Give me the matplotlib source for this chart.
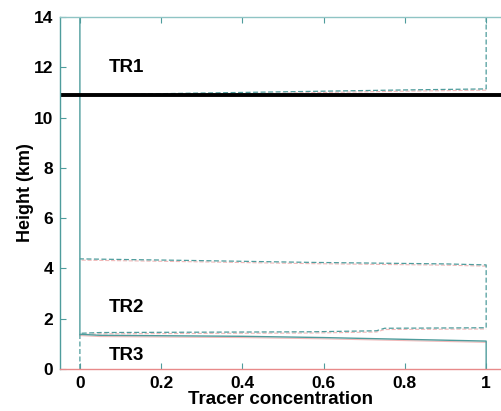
import matplotlib
matplotlib.use('Agg')
import matplotlib.pyplot as plt

plt.rcParams['font.family'] = ['Liberation Sans', 'DejaVu Sans']
plt.rcParams['font.weight'] = 'bold'

# profiles of tracer concentration vs height (km)
tr1_x = [1, 1, 0.8, 0.6, 0.4, 0.27, 0.1, 0]
tr1_y = [14, 11.14, 11.1, 11.05, 11.0, 10.97, 10.92, 10.9]
tr2_x = [0, 0, 0.05, 0.57, 0.73, 0.75, 1, 1, 0.9, 0.57, 0.26, 0, 0]
tr2_y = [0, 1.42, 1.45, 1.48, 1.52, 1.62, 1.64, 4.14, 4.18, 4.24, 4.32, 4.38, 14]
tr3_x = [0, 0, 0.05, 0.4, 0.6, 0.8, 1, 1]
tr3_y = [14, 1.38, 1.34, 1.30, 1.25, 1.18, 1.11, 0]
tropopause = 10.9

labels = ['TR1', 'TR2', 'TR3']
label_y = [12.0, 2.45, 0.55]

teal = '#4e9c9c'
red = '#e88a8a'

fig = plt.figure(figsize=(5.02, 4.11), dpi=100)
ax = fig.add_axes([0.1195, 0.1022, 0.8805, 0.8564])

# faint red copy of the horizontal parts (misregistered print)
ax.plot(tr1_x[1:-1], [y - 0.05 for y in tr1_y[1:-1]], color=red, lw=0.8, ls='--', alpha=0.6)
ax.plot(tr2_x[1:7], [y - 0.05 for y in tr2_y[1:7]], color=red, lw=0.8, ls='--', alpha=0.6)
ax.plot(tr2_x[7:12], [y - 0.05 for y in tr2_y[7:12]], color=red, lw=0.8, ls='--', alpha=0.6)
ax.plot(tr3_x[1:-1], [y - 0.05 for y in tr3_y[1:-1]], color=red, lw=0.8, alpha=0.6)

# x=0 segment of TR2 above its top is hidden under the solid TR3 line
ax.plot(tr1_x, tr1_y, color=teal, lw=0.9, ls='--', dashes=(4, 2))
ax.plot(tr2_x[:-1], tr2_y[:-1], color=teal, lw=0.9, ls='--', dashes=(4, 2))
ax.plot(tr3_x, tr3_y, color=teal, lw=1.0)
ax.axhline(tropopause, color='black', lw=2.8)

for lab, y in zip(labels, label_y):
    ax.text(0.115, y, lab, ha='center', va='center', fontsize=13.5, fontweight='bold')

ax.set_xlim(-0.049, 1.039)
ax.set_ylim(0, 14)
ax.set_xticks([0, 0.2, 0.4, 0.6, 0.8, 1])
ax.set_xticklabels(['0', '0.2', '0.4', '0.6', '0.8', '1'])
ax.set_yticks([0, 2, 4, 6, 8, 10, 12, 14])
ax.tick_params(direction='in', length=4, width=0.8, labelcolor='black', labelsize=12.5,
               top=True, right=False, pad=5, color=teal)
for t in ax.get_xticklabels() + ax.get_yticklabels():
    t.set_fontweight('bold')

ax.spines['right'].set_visible(False)
ax.spines['left'].set_color(teal)
ax.spines['top'].set_color('#8fc4c4')
ax.spines['bottom'].set_color(red)
for s in ax.spines.values():
    s.set_linewidth(1.0)

ax.set_xlabel('Tracer concentration', fontsize=13.5, fontweight='bold', labelpad=0)
ax.set_ylabel('Height (km)', fontsize=13, fontweight='bold', labelpad=0)

plt.savefig('out.png', dpi=100)
